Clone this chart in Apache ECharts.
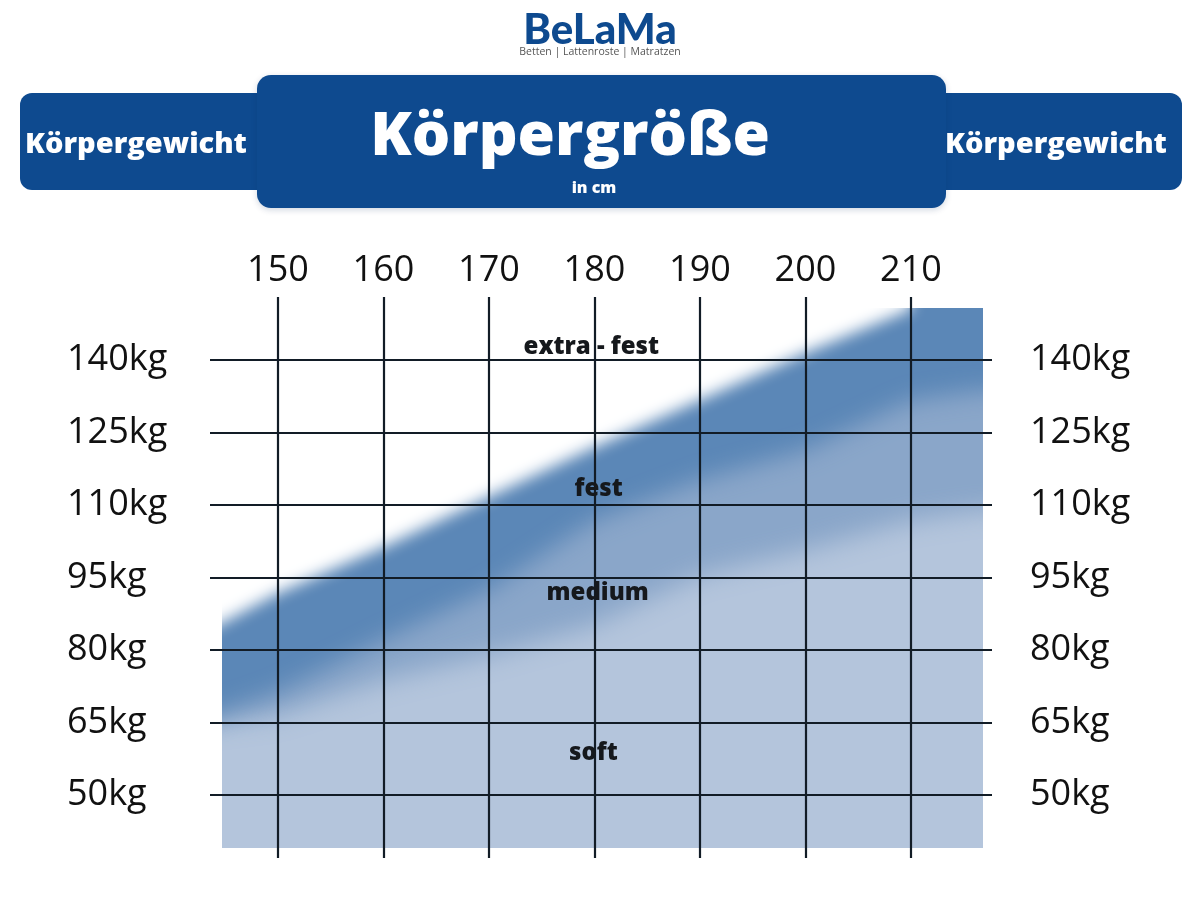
<!DOCTYPE html>
<html>
<head>
<meta charset="utf-8">
<script src="https://cdn.jsdelivr.net/npm/echarts@6/dist/echarts.min.js"></script>
<style>
  html, body { margin: 0; padding: 0; background: #ffffff; }
  #chart { width: 1200px; height: 900px; }
</style>
</head>
<body>
<div id="chart"></div>
<script>
// ---- data ----
var heightTicks = [150, 160, 170, 180, 190, 200, 210];        // Körpergröße (cm)
var weightTicks = [50, 65, 80, 95, 110, 125, 140];            // Körpergewicht (kg)
var bandHeights = [144.7, 150, 160, 170, 180, 190, 200, 210, 216.8];
var bandTop     = [85.6, 91.8, 101.3, 111.7, 122, 131.7, 141.5, 150.5, 150.8];   // white (above) -> fest
var festBottom  = [67.2, 71.3, 82.1, 92.4, 106.9, 115.2, 121.4, 131.7, 133.8];   // fest -> medium
var mediumBottom= [65.1, 66.6, 73.8, 79.0, 85.2, 95.5, 100.7, 106.9, 109.0];     // medium -> soft
var areaRangeX = [144.69, 216.82];   // coloured field, cm
var areaRangeY = [39.03, 150.76];    // coloured field, kg
var zoneLabels = [
  [179.7, 142.7, 'extra - fest'],
  [180.4, 113.2, 'fest'],
  [180.3, 91.7, 'medium'],
  [179.9, 58.6, 'soft']
];

var C_DARK = '#5b87b7', C_MID = '#8aa6c9', C_LIGHT = '#b4c5dc';
var BANNER = '#0e4a8f';
var OFF = 3000;   // shapes are drawn off-screen; only their blurred shadow lands in the field

var chart = echarts.init(document.getElementById('chart'), null, { renderer: 'canvas' });

function renderField(params, api) {
  var n = bandHeights.length;
  var tl = api.coord([areaRangeX[0], areaRangeY[1]]);
  var br = api.coord([areaRangeX[1], areaRangeY[0]]);
  var pad = 90;
  var topY = tl[1] - pad;

  function boundary(ys, count) {
    var pts = [];
    for (var i = 0; i < count; i++) pts.push(api.coord([bandHeights[i], ys[i]]));
    var a = pts[0], b = pts[1];
    var k = pad / (b[0] - a[0]);
    var left = [a[0] - (b[0] - a[0]) * k, a[1] - (b[1] - a[1]) * k];
    return [left].concat(pts);
  }
  function shifted(pts) { return pts.map(function (p) { return [p[0] + OFF, p[1]]; }); }
  function blurred(points, color, blur) {
    return {
      type: 'polygon', shape: { points: shifted(points) }, silent: true,
      style: { fill: color, shadowColor: color, shadowBlur: blur, shadowOffsetX: -OFF, shadowOffsetY: 0 }
    };
  }
  function bandUpTo(ys, blur, color) {
    var pts = boundary(ys, n);
    var last = pts[pts.length - 1];
    pts.push([last[0] + pad, last[1]], [last[0] + pad, topY], [pts[0][0], topY]);
    return blurred(pts, color, blur);
  }
  // white region above the fest band: edge ends at 210 cm, then straight up
  var wPts = boundary(bandTop, n - 1);
  var wLast = wPts[wPts.length - 1];
  wPts.push([wLast[0], topY], [wPts[0][0], topY]);

  return {
    type: 'group',
    children: [
      { type: 'rect', silent: true, shape: { x: tl[0], y: tl[1], width: br[0] - tl[0], height: br[1] - tl[1] }, style: { fill: C_LIGHT } },
      bandUpTo(mediumBottom, 26, C_MID),
      bandUpTo(festBottom, 24, C_DARK),
      blurred(wPts, '#ffffff', 15)
    ]
  };
}

var labelFont = { fontFamily: 'Open Sans', fontSize: 36, color: '#111111' };
var hiddenAxis = { show: false, axisLine: { show: false }, axisTick: { show: false }, axisLabel: { show: false }, splitLine: { show: false } };

var option = {
  animation: false,
  backgroundColor: '#ffffff',
  grid: [
    { left: 222, right: 217, top: 308, bottom: 52 },     // coloured field
    { left: 210, right: 208, top: 297, bottom: 42 }      // grid lines + labels
  ],
  xAxis: [
    Object.assign({ type: 'value', gridIndex: 0, min: areaRangeX[0], max: areaRangeX[1] }, hiddenAxis),
    {
      type: 'value', gridIndex: 1, position: 'top', min: 143.555, max: 217.68,
      axisLine: { show: false }, axisTick: { show: false }, splitLine: { show: false },
      axisLabel: Object.assign({ customValues: heightTicks, margin: 8 }, labelFont)
    }
  ],
  yAxis: [
    Object.assign({ type: 'value', gridIndex: 0, min: areaRangeY[0], max: areaRangeY[1] }, hiddenAxis),
    {
      type: 'value', gridIndex: 1, position: 'left', min: 36.96, max: 153.04,
      axisLine: { show: false }, axisTick: { show: false }, splitLine: { show: false },
      axisLabel: Object.assign({ customValues: weightTicks, formatter: '{value}kg', align: 'left', margin: 143 }, labelFont)
    }, {
      type: 'value', gridIndex: 1, position: 'right', min: 36.96, max: 153.04,
      axisLine: { show: false }, axisTick: { show: false }, splitLine: { show: false },
      axisLabel: Object.assign({ customValues: weightTicks, formatter: '{value}kg', align: 'left', margin: 38 }, labelFont)
    }
  ],
  series: [
    {
      type: 'custom', xAxisIndex: 0, yAxisIndex: 0, clip: true, silent: true, z: 2,
      data: [[areaRangeX[0], areaRangeY[0]]],
      renderItem: renderField
    },
    {
      type: 'line', xAxisIndex: 1, yAxisIndex: 1, data: [], z: 10, silent: true,
      markLine: {
        silent: true, symbol: 'none', label: { show: false },
        lineStyle: { color: '#121c26', width: 2.2, type: 'solid' },
        data: heightTicks.map(function (h) { return { xAxis: h }; })
          .concat(weightTicks.map(function (w) { return { yAxis: w }; }))
      }
    },
    {
      type: 'scatter', xAxisIndex: 1, yAxisIndex: 1, data: zoneLabels, symbolSize: 0, z: 12, silent: true,
      itemStyle: { color: '#000000', opacity: 0 },
      label: {
        show: true, position: 'inside', formatter: function (p) { return p.data[2]; },
        fontFamily: 'Open Sans', fontWeight: 800, fontSize: 24, color: '#15181c', textBorderWidth: 0, opacity: 1
      }
    }
  ],
  graphic: [
    { type: 'text', left: 'center', top: 9, style: { text: 'BeLaMa', font: '900 42px Lato', fill: BANNER } },
    { type: 'text', left: 'center', top: 47, style: { text: 'Betten | Lattenroste | Matratzen', font: '10.5px "Open Sans"', fill: '#555555' } },
    { type: 'rect', shape: { x: 20, y: 93, width: 262, height: 97, r: 12 }, style: { fill: BANNER }, z: 1 },
    { type: 'rect', shape: { x: 920, y: 93, width: 262, height: 97, r: 12 }, style: { fill: BANNER }, z: 1 },
    { type: 'rect', shape: { x: 257, y: 75, width: 689, height: 133, r: 14 },
      style: { fill: BANNER, shadowBlur: 6, shadowColor: 'rgba(0,40,90,0.18)', shadowOffsetY: 2 }, z: 2 },
    { type: 'text', x: 136, y: 145, z: 3, style: { text: 'Körpergewicht', font: '800 29px "Open Sans"', fill: '#ffffff', align: 'center', verticalAlign: 'middle' } },
    { type: 'text', x: 1056, y: 145, z: 3, style: { text: 'Körpergewicht', font: '800 29px "Open Sans"', fill: '#ffffff', align: 'center', verticalAlign: 'middle' } },
    { type: 'text', x: 570, y: 138, z: 3, style: { text: 'Körpergröße', font: '800 60.5px "Open Sans"', fill: '#ffffff', align: 'center', verticalAlign: 'middle' } },
    { type: 'text', x: 594, y: 188, z: 3, style: { text: 'in cm', font: '800 16px "Open Sans"', fill: '#ffffff', align: 'center', verticalAlign: 'middle' } }
  ]
};
chart.setOption(option);
</script>
</body>
</html>
